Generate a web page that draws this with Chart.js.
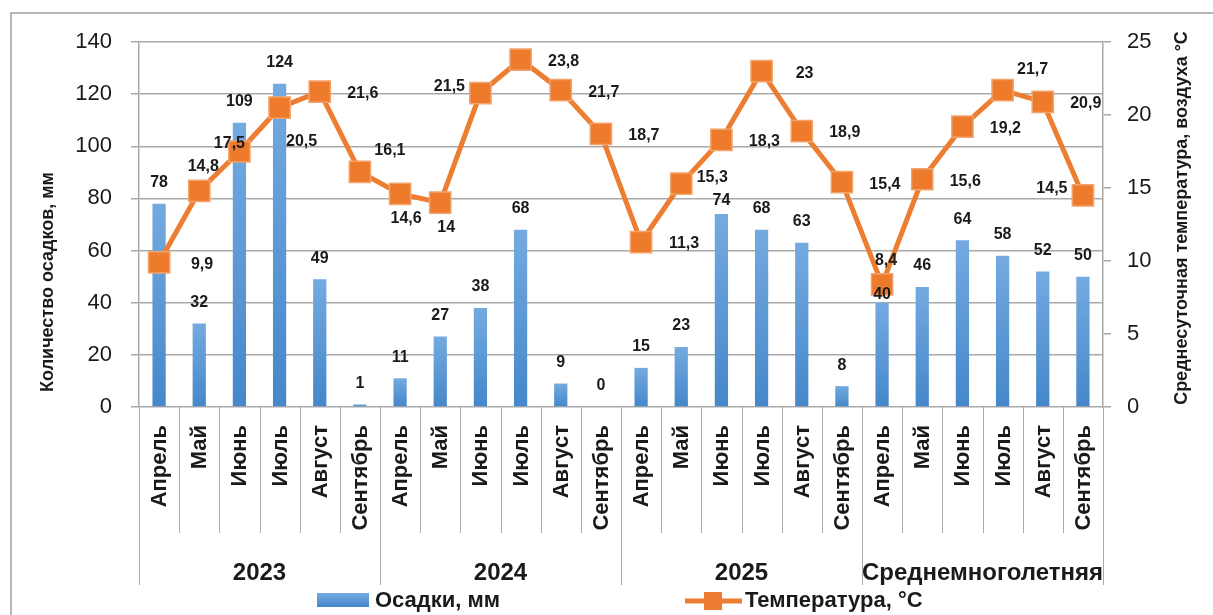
<!DOCTYPE html>
<html><head><meta charset="utf-8">
<script src="https://cdn.jsdelivr.net/npm/chart.js@4.4.1/dist/chart.umd.min.js"></script>
<style>html,body{margin:0;padding:0;background:#fff}#wrap{width:1213px;height:615px;position:relative}</style>
</head><body><div id="wrap"><canvas id="c" width="1213" height="615"></canvas></div>
<script>
// ---- data ----
const months = ['Апрель','Май','Июнь','Июль','Август','Сентябрь'];
const groups = ['2023','2024','2025','Среднемноголетняя'];
const precipitation = [78,32,109,124,49,1, 11,27,38,68,9,0, 15,23,74,68,63,8, 40,46,64,58,52,50];
const temperature = [9.9,14.8,17.5,20.5,21.6,16.1, 14.6,14,21.5,23.8,21.7,18.7, 11.3,15.3,18.3,23,18.9,15.4, 8.4,15.6,19.2,21.7,20.9,14.5];
const precipTicks = [0,20,40,60,80,100,120,140];
const tempTicks = [0,5,10,15,20,25];
const seriesNames = ['Осадки, мм','Температура, °C'];
const axisTitles = ['Количество осадков, мм','Среднесуточная температура, воздуха °C'];
// label placement keywords (style only)
const tempLabelPlace = ['r','a','tl','br','r','tr','b','b','l','r','r','r','r','rt','r','r','r','r','a','r','r','tr','r','l'];
const barLabelPlace = ['n','n','n','n','n','n', 'n','n','n','n','n','n', 'n','n','lo','n','n','n', 'lo2','n','n','n','n','n'];

const labels = [];
groups.forEach(() => months.forEach(m => labels.push(m)));

const FONT = '"Liberation Sans", Arial, sans-serif';
const TXT = '#1a1a1a';
const GRID = '#a9a9a9';
const fmt = v => String(v).replace('.', ',');

function barFill(ctx) {
  const chart = ctx.chart;
  if (!chart.chartArea || ctx.type !== 'data') return '#5b9bd5';
  const y = chart.scales.y;
  const t = y.getPixelForValue(ctx.raw), b = y.getPixelForValue(0);
  if (b - t < 2) return '#6fa7de';
  const g = chart.ctx.createLinearGradient(0, t, 0, b);
  g.addColorStop(0, '#74aae0');
  g.addColorStop(1, '#4587ca');
  return g;
}

const placeOff = { r:[43,2], rt:[31,-6], a:[4,-24], tl:[-10,-8], br:[22,34], tr:[30,-21], b:[6,25], l:[-31,-7] };
const barLift = { n: 21, lo: 13, lo2: 8 };

const decor = {
  id: 'decor',
  beforeDraw(chart) {
    const c = chart.ctx;
    c.save();
    c.fillStyle = '#fff';
    c.fillRect(0, 0, chart.width, chart.height);
    c.strokeStyle = '#a0a0a0';
    c.lineWidth = 1.5;
    c.strokeRect(11, 13, 1400, 800);
    c.restore();
  },
  afterDatasetsDraw(chart) {
    const c = chart.ctx;
    const x = chart.scales.x, y = chart.scales.y, y1 = chart.scales.y1;
    const area = chart.chartArea;
    c.save();
    // bar labels
    c.font = 'bold 16px ' + FONT;
    c.fillStyle = TXT;
    c.textAlign = 'center';
    c.textBaseline = 'middle';
    precipitation.forEach((v, i) => {
      const lift = barLift[barLabelPlace[i]] || barLift.n;
      c.fillText(fmt(v), x.getPixelForValue(i), y.getPixelForValue(v) - lift);
    });
    // line labels
    temperature.forEach((v, i) => {
      const o = placeOff[tempLabelPlace[i]] || placeOff.r;
      c.fillText(fmt(v), x.getPixelForValue(i) + o[0], y1.getPixelForValue(v) + o[1]);
    });
    // category axis: separators, months, groups
    const n = labels.length;
    const w = (area.right - area.left) / n;
    const base = area.bottom;
    c.strokeStyle = GRID;
    c.lineWidth = 1;
    for (let i = 0; i <= n; i++) {
      const px = Math.round(area.left + i * w) + 0.5;
      c.beginPath();
      c.moveTo(px, base);
      c.lineTo(px, i % months.length === 0 ? 585 : 533);
      c.stroke();
    }
    c.font = 'bold 22px ' + FONT;
    c.textAlign = 'right';
    c.textBaseline = 'middle';
    labels.forEach((m, i) => {
      c.save();
      c.translate(x.getPixelForValue(i) + 1, 425);
      c.rotate(-Math.PI / 2);
      c.fillText(m, 0, 0);
      c.restore();
    });
    c.font = 'bold 24px ' + FONT;
    c.textAlign = 'center';
    groups.forEach((g, k) => {
      const cx = area.left + (k + 0.5) * months.length * w;
      c.fillText(g, cx, 573);
    });
    // axis titles
    c.font = 'bold 18px ' + FONT;
    c.save();
    c.translate(48, 282);
    c.rotate(-Math.PI / 2);
    c.fillText(axisTitles[0], 0, 0);
    c.restore();
    c.save();
    c.translate(1182, 218);
    c.rotate(-Math.PI / 2);
    c.fillText(axisTitles[1], 0, 0);
    c.restore();
    // legend
    const lg = c.createLinearGradient(0, 593, 0, 607);
    lg.addColorStop(0, '#74aae0'); lg.addColorStop(1, '#4587ca');
    c.fillStyle = lg;
    c.fillRect(317, 593, 52, 14);
    c.fillStyle = TXT;
    c.font = 'bold 22px ' + FONT;
    c.textAlign = 'left';
    c.fillText(seriesNames[0], 375, 601);
    c.strokeStyle = '#ed7d31';
    c.lineWidth = 5;
    c.beginPath(); c.moveTo(685, 601); c.lineTo(742, 601); c.stroke();
    c.fillStyle = '#ed7d31';
    c.fillRect(704, 592, 18, 18);
    c.fillStyle = TXT;
    c.fillText(seriesNames[1], 745, 601);
    c.restore();
  }
};

new Chart(document.getElementById('c'), {
  data: {
    labels: labels,
    datasets: [
      {
        type: 'line',
        label: seriesNames[1],
        data: temperature,
        yAxisID: 'y1',
        borderColor: '#ed7d31',
        borderWidth: 5,
        tension: 0,
        pointStyle: 'rect',
        pointRadius: 15,
        pointHoverRadius: 15,
        pointBackgroundColor: '#ee7a2c',
        pointBorderColor: '#f2a46c',
        pointBorderWidth: 1.5,
        order: 0
      },
      {
        type: 'bar',
        label: seriesNames[0],
        data: precipitation,
        yAxisID: 'y',
        backgroundColor: barFill,
        categoryPercentage: 1,
        barPercentage: 0.33,
        order: 1
      }
    ]
  },
  options: {
    responsive: false,
    animation: false,
    devicePixelRatio: 1,
    events: [],
    layout: { autoPadding: false, padding: { top: 42, left: 0, right: 0, bottom: 0 } },
    plugins: { legend: { display: false }, tooltip: { enabled: false } },
    scales: {
      x: {
        type: 'category',
        offset: true,
        grid: { display: false },
        border: { display: false },
        ticks: { display: false },
        afterFit(s) { s.height = 208; }
      },
      y: {
        position: 'left',
        min: 0, max: 140,
        afterBuildTicks(s) { s.ticks = precipTicks.map(v => ({ value: v })); },
        ticks: { font: { family: FONT, size: 22 }, color: TXT, padding: 19 },
        grid: { color: GRID, lineWidth: 1.5, tickLength: 8 },
        border: { display: true, color: GRID, width: 1.5 },
        afterFit(s) { s.width = 139; }
      },
      y1: {
        position: 'right',
        min: 0, max: 25,
        afterBuildTicks(s) { s.ticks = tempTicks.map(v => ({ value: v })); },
        ticks: { font: { family: FONT, size: 22 }, color: TXT, padding: 16 },
        grid: { drawOnChartArea: false, color: GRID, lineWidth: 1.5, tickLength: 8 },
        border: { display: true, color: GRID, width: 1.5 },
        afterFit(s) { s.width = 110; }
      }
    }
  },
  plugins: [decor]
});
</script>
</body></html>
